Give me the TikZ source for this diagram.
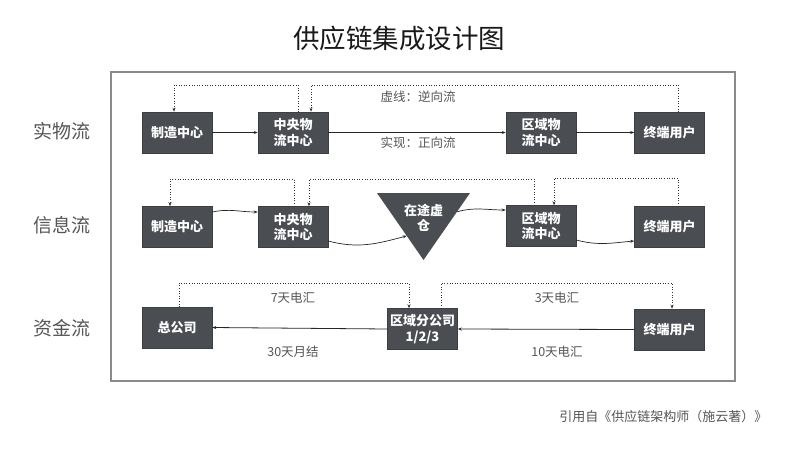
\documentclass[tikz,border=0pt]{standalone}
\usepackage{fontspec}
\setmainfont{Noto Sans CJK SC}
\usetikzlibrary{arrows.meta,calc}
\definecolor{boxfill}{HTML}{4A4D52}
\definecolor{labgray}{HTML}{555555}
\definecolor{framegray}{HTML}{8A8A8A}
\tikzset{
  box/.style={draw=boxfill!80!black,fill=boxfill,text=white,font=\fontsize{13}{15.5}\selectfont\bfseries,minimum width=70pt,minimum height=41pt,inner sep=0pt,align=center,line width=0.5pt},
  rowlab/.style={text=labgray,font=\fontsize{19}{22}\selectfont},
  lab/.style={text=labgray,font=\fontsize{12.5}{15}\selectfont},
  fwd/.style={line width=0.8pt,draw=black!85,-{Stealth[length=4pt,width=3pt]}},
  back/.style={line width=0.6pt,draw=black!80,dotted,-{Stealth[length=4pt,width=3pt]}},
}
\begin{document}
\begin{tikzpicture}[x=1pt,y=-1pt]
\useasboundingbox (0,0) rectangle (800,450);
% title
\node[font=\fontsize{26.5}{30}\selectfont,text=black!90] (title) at (399,38) {供应链集成设计图};
% frame
\draw[framegray,line width=1.2pt] (111,72) rectangle (735,381);
% row labels
\node[rowlab] (r1) at (62,131) {实物流};
\node[rowlab] (r2) at (62,225) {信息流};
\node[rowlab] (r3) at (62,328) {资金流};

% ---- row 1
\node[box] (a1) at (177,132.5) {制造中心};
\node[box] (a2) at (293,132.5) {中央物\\流中心};
\node[box] (a3) at (541,132.5) {区域物\\流中心};
\node[box] (a4) at (669.5,132.5) {终端用户};
\draw[fwd] (a1) -- (a2);
\draw[fwd] (a2) -- (a3);
\draw[fwd] (a3) -- (a4);
\draw[back] ([xshift=5pt]a2.north) |- (174,85) -- (a1.north -| 174,0);
\draw[back] ([xshift=8.5pt]a4.north) |- (311,85) -- (a2.north -| 311,0);
\node[lab] (l1) at (418,97) {虚线：逆向流};
\node[lab] (l2) at (418,143) {实现：正向流};

% ---- row 2
\node[box] (b1) at (177,227) {制造中心};
\node[box] (b2) at (293,227) {中央物\\流中心};
\node[box] (b3) at (541,226) {区域物\\流中心};
\node[box] (b4) at (669.5,227) {终端用户};
\coordinate (t1) at (377,193);
\coordinate (t2) at (470,193);
\coordinate (t3) at (423.5,260);
\fill[boxfill] (t1) -- (t2) -- (t3) -- cycle;
\node[text=white,font=\fontsize{13}{15.5}\selectfont\bfseries,align=center] (tri) at (423.5,218) {在途虚\\仓};
\coordinate (tin) at ($(t1)!0.64!(t3)$);
\coordinate (tout) at ($(t2)!0.28!(t3)$);
\draw[fwd,line width=0.7pt] ([yshift=15pt]b1.east) to[out=12,in=180] ([yshift=15pt]b2.west);
\draw[fwd,line width=0.7pt] ([yshift=-14pt]b2.east) to[out=-15,in=195] (tin);
\draw[fwd,line width=0.7pt] (tout) to[out=15,in=180] ([yshift=16pt]b3.west);
\draw[fwd,line width=0.7pt] ([yshift=-14pt]b3.east) to[out=-15,in=185] ([yshift=-14pt]b4.west);
\draw[back] ([xshift=1pt]b2.north) |- (170,179) -- (b1.north -| 170,0);
\draw[back] ([xshift=-7pt]b3.north) |- (309,179) -- (b2.north -| 309,0);
\draw[back] ([xshift=8.5pt]b4.north) |- (554,178) -- (b3.north -| 554,0);

% ---- row 3
\node[box] (c1) at (177,327.5) {总公司};
\node[box] (c2) at (422.5,329) {区域分公司\\1/2/3};
\node[box] (c3) at (669.5,329.5) {终端用户};
\draw[fwd] (c2.west) -- (c1.east);
\draw[fwd] (c3.west) -- (c2.east);
\draw[back] (c1.north -| 179,0) |- (409,283) -- (c2.north -| 409,0);
\draw[back] (c2.north -| 441,0) |- (672,283) -- (c3.north -| 672,0);
\node[lab] (m1) at (293,298) {7天电汇};
\node[lab] (m2) at (293,352) {30天月结};
\node[lab] (m3) at (557,298) {3天电汇};
\node[lab] (m4) at (557,352) {10天电汇};

% citation
\node[text=labgray,font=\fontsize{13}{15}\selectfont,anchor=east] (cite) at (771,417) {引用自《供应链架构师（施云著）》};
\end{tikzpicture}
\end{document}
